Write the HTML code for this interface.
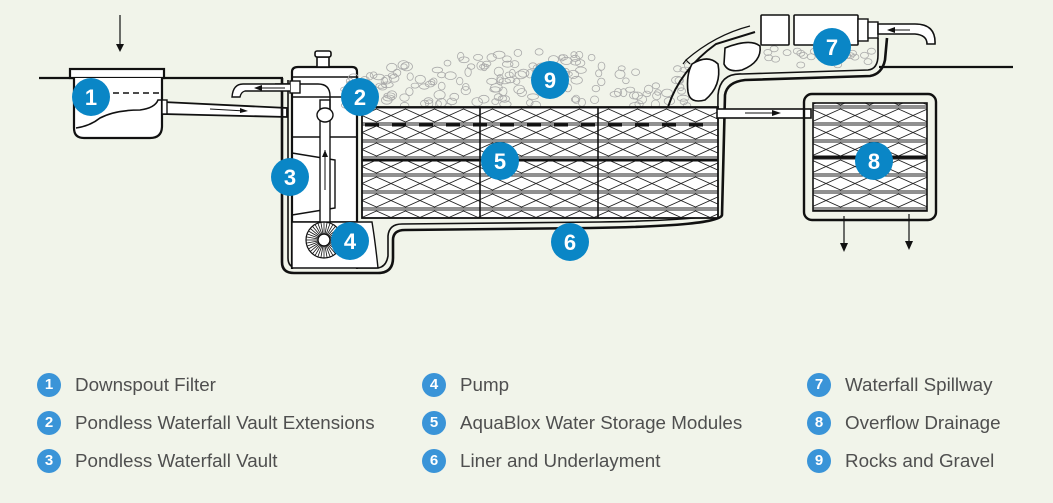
<!DOCTYPE html>
<html><head><meta charset="utf-8"><style>
html,body{margin:0;padding:0;background:#f1f4ea;}
body{width:1053px;height:503px;overflow:hidden;position:relative;font-family:"Liberation Sans",Arial,sans-serif;}
svg{position:absolute;left:0;top:0;}
.lg{position:absolute;font-size:18.8px;color:#4f4f4f;}
.lc{position:absolute;width:24px;height:24px;border-radius:50%;background:#3a94d8;color:#fff;font-weight:bold;font-size:15px;text-align:center;line-height:24px;}
</style></head><body>
<svg width="1053" height="503" viewBox="0 0 1053 503">
<defs>
<pattern id="mod" width="29" height="17" patternUnits="userSpaceOnUse" x="362" y="107">
<rect width="29" height="17" fill="#fff"/>
<path d="M0 8.5 L14.5 2 L29 8.5 L14.5 15 Z" fill="none" stroke="#222" stroke-width="0.9"/>
<line x1="0" y1="1" x2="29" y2="1" stroke="#222" stroke-width="0.9"/>
<line x1="0" y1="16" x2="29" y2="16" stroke="#222" stroke-width="0.9"/>
</pattern>
</defs>
<g stroke="#111" fill="none" stroke-width="2.2">
<line x1="39" y1="78" x2="283" y2="78"/>
<line x1="879" y1="67" x2="1013" y2="67"/>
<line x1="120" y1="15" x2="120" y2="50" stroke-width="1.2"/>
<path d="M116 44 L120 52 L124 44 Z" fill="#111" stroke="none"/>
<rect x="70" y="69" width="94" height="9" fill="#fff"/>
<path d="M74 78 V128 Q74 138 84 138 H150 Q162 138 162 126 V78" fill="#fff"/>
<path d="M76 128 Q90 126 100 118 Q115 110 140 110 Q155 108 158 100 L162 100" stroke-width="1.6"/>
<line x1="113" y1="93" x2="160" y2="93" stroke-dasharray="6,4" stroke-width="1.6"/>
<path d="M163 102 L287 108 L287 117 L163 114 Z" fill="#fff" stroke-width="1.8"/>
<rect x="162" y="100" width="5" height="14" fill="#fff" stroke-width="1.4"/>
<line x1="210" y1="109" x2="245" y2="111" stroke-width="1"/>
<path d="M240 108 L248 111 L240 113 Z" fill="#111" stroke="none"/>
<path d="M282 78 V262 Q282 273 294 273 H378 Q393 273 393 258 V240 Q393 230 405 230 L590 228 Q720 226 722 215 L725 95 Q727 82 745 80 L870 76 Q882 74 885 60 L887 38" stroke-width="2.6"/>
<path d="M288 80 V258 Q288 268 298 268 H376 Q386 268 388 256 V236 Q389 224 402 224 L600 222 Q717 220 717 212 L718 95 Q720 73 742 74 L868 70 Q878 69 878 55 L878 38" stroke-width="1.6"/>
<path d="M292 269 V72 Q292 67 298 67 H352 Q357 67 357 72 V269" fill="#fff"/>
<rect x="317" y="57" width="12" height="10" fill="#fff" stroke-width="1.6"/>
<rect x="315" y="51" width="16" height="6" rx="2" fill="#fff" stroke-width="1.6"/>
<line x1="292" y1="77" x2="357" y2="77" stroke-width="1.4"/>
<line x1="292" y1="97" x2="357" y2="97" stroke-width="1.4"/>
<line x1="292" y1="137" x2="357" y2="137" stroke-width="1.4"/>
<line x1="292" y1="222" x2="357" y2="222" stroke-width="1.4"/>
<path d="M292 153 L335 160 V208 L292 215" stroke-width="1.4"/>
<path d="M292 222 V268 H378 Q375 240 372 222 Z" fill="#fff" stroke-width="1.4"/>
<rect x="320" y="100" width="10" height="122" fill="#fff" stroke-width="1.4"/>
<path d="M275 84 H318 Q330 84 330 96 V110" stroke-width="1.4"/>
<ellipse cx="325" cy="115" rx="8" ry="7" fill="#fff" stroke-width="1.4"/>
<line x1="325" y1="150" x2="325" y2="190" stroke-width="1"/>
<path d="M322 157 L325 150 L328 157 Z" fill="#111" stroke="none"/>
<rect x="290" y="81" width="10" height="12" fill="#fff" stroke-width="1.4"/>
<path d="M290 84 H243 Q233 84 232 97 H240 Q241 92 245 91 H290" fill="#fff" stroke-width="1.4"/>
<line x1="255" y1="88" x2="285" y2="88" stroke-width="1"/>
<path d="M262 85 L254 88 L262 91 Z" fill="#111" stroke="none"/>
<circle cx="324" cy="240" r="18" fill="#fff" stroke-width="1.2"/>
<circle cx="324" cy="240" r="6" fill="#fff" stroke-width="1.4"/>
</g>
<g id="pumpfins" stroke="#111" stroke-width="0.8"></g>
<g id="gravel" fill="none" stroke="#aaa" stroke-width="0.8"></g>
<rect x="362" y="107" width="356" height="111" fill="url(#mod)" stroke="#111" stroke-width="1.8"/>
<g stroke="#111" stroke-width="1.6">
<line x1="480" y1="107" x2="480" y2="218"/>
<line x1="598" y1="107" x2="598" y2="218"/>
<line x1="362" y1="160" x2="718" y2="160" stroke-width="3"/>
<line x1="365" y1="125" x2="716" y2="125" stroke-width="3" stroke-dasharray="14,13"/>
</g>
<g stroke="#111" fill="none" stroke-width="2">
<rect x="717" y="109" width="94" height="9" fill="#fff" stroke-width="1.6"/>
<line x1="745" y1="113" x2="778" y2="113" stroke-width="1"/>
<path d="M772 110 L781 113 L772 116 Z" fill="#111" stroke="none"/>
<rect x="804" y="94" width="132" height="126" rx="8" stroke-width="2.4"/>
<rect x="813" y="103" width="114" height="108" fill="url(#mod)" stroke-width="1.6"/>
<line x1="813" y1="157" x2="927" y2="157" stroke-width="3"/>
<line x1="844" y1="216" x2="844" y2="248" stroke-width="1.2"/>
<path d="M840 243 L844 252 L848 243 Z" fill="#111" stroke="none"/>
<line x1="909" y1="214" x2="909" y2="246" stroke-width="1.2"/>
<path d="M905 241 L909 250 L913 241 Z" fill="#111" stroke="none"/>
<path d="M668 107 Q680 70 716 44 L755 32" stroke-width="2"/>
<path d="M686 60 Q715 35 750 26" stroke-width="1.2"/>
<path d="M683 64 L686 60 L690 64" stroke-width="1.2"/>
<path d="M692 64 Q708 54 718 64 Q722 86 705 100 Q690 104 688 92 Q686 75 692 64 Z" fill="#fff" stroke-width="1.6"/>
<path d="M725 48 Q750 38 760 46 Q762 62 742 70 Q728 73 724 64 Z" fill="#fff" stroke-width="1.6"/>
<rect x="761" y="15" width="28" height="30" rx="1" fill="#fff" stroke-width="1.6"/>
<rect x="794" y="15" width="64" height="30" rx="1" fill="#fff" stroke-width="1.6"/>
<rect x="858" y="19" width="10" height="22" fill="#fff" stroke-width="1.4"/>
<rect x="868" y="22" width="10" height="16" fill="#fff" stroke-width="1.4"/>
<path d="M878 24 H915 Q936 24 935 44 H927 Q927 35 915 34 H878 Z" fill="#fff" stroke-width="1.6"/>
<line x1="888" y1="30" x2="910" y2="30" stroke-width="1"/>
<path d="M895 27 L887 30 L895 33 Z" fill="#111" stroke="none"/>
</g>
<g font-family="Liberation Sans, Arial, sans-serif" font-weight="bold" font-size="22" fill="#fff" text-anchor="middle">
<g fill="#0a86c6"><circle cx="91" cy="97" r="19"/><circle cx="360" cy="97" r="19"/><circle cx="290" cy="177" r="19"/><circle cx="350" cy="241" r="19"/><circle cx="500" cy="161" r="19"/><circle cx="570" cy="242" r="19"/><circle cx="832" cy="47" r="19"/><circle cx="874" cy="161" r="19"/><circle cx="550" cy="80" r="19"/></g>
<text x="91" y="105">1</text><text x="360" y="105">2</text><text x="290" y="185">3</text><text x="350" y="249">4</text><text x="500" y="169">5</text><text x="570" y="250">6</text><text x="832" y="55">7</text><text x="874" y="169">8</text><text x="550" y="88">9</text>
</g>
</svg>
<div class="lc" style="left:37px;top:373px">1</div><div class="lg" style="left:75px;top:374px">Downspout Filter</div>
<div class="lc" style="left:37px;top:411px">2</div><div class="lg" style="left:75px;top:412px">Pondless Waterfall Vault Extensions</div>
<div class="lc" style="left:37px;top:449px">3</div><div class="lg" style="left:75px;top:450px">Pondless Waterfall Vault</div>
<div class="lc" style="left:422px;top:373px">4</div><div class="lg" style="left:460px;top:374px">Pump</div>
<div class="lc" style="left:422px;top:411px">5</div><div class="lg" style="left:460px;top:412px">AquaBlox Water Storage Modules</div>
<div class="lc" style="left:422px;top:449px">6</div><div class="lg" style="left:460px;top:450px">Liner and Underlayment</div>
<div class="lc" style="left:807px;top:373px">7</div><div class="lg" style="left:845px;top:374px">Waterfall Spillway</div>
<div class="lc" style="left:807px;top:411px">8</div><div class="lg" style="left:845px;top:412px">Overflow Drainage</div>
<div class="lc" style="left:807px;top:449px">9</div><div class="lg" style="left:845px;top:450px">Rocks and Gravel</div>
<script>
(function(){
var ns="http://www.w3.org/2000/svg",g=document.getElementById("gravel"),s=7;
function r(){s=(s*9301+49297)%233280;return s/233280;}
for(var i=0;i<170;i++){var x=345+r()*350;var top=80-30*Math.exp(-Math.pow((x-520)/140,2));if(x>640)top=80-(x-640)*0.3;var y=top+r()*(106-top);
var e=document.createElementNS(ns,"ellipse");e.setAttribute("cx",x.toFixed(1));e.setAttribute("cy",y.toFixed(1));e.setAttribute("rx",(3+r()*3).toFixed(1));e.setAttribute("ry",(2.5+r()*2).toFixed(1));g.appendChild(e);}
for(var j=0;j<30;j++){var x2=735+r()*140,y2=48+r()*18;var e2=document.createElementNS(ns,"ellipse");e2.setAttribute("cx",x2);e2.setAttribute("cy",y2);e2.setAttribute("rx",4);e2.setAttribute("ry",3);g.appendChild(e2);}
var p=document.getElementById("pumpfins");
for(var k=0;k<36;k++){var a=k*Math.PI/18;var l=document.createElementNS(ns,"line");l.setAttribute("x1",324+6*Math.cos(a));l.setAttribute("y1",240+6*Math.sin(a));l.setAttribute("x2",324+18*Math.cos(a));l.setAttribute("y2",240+18*Math.sin(a));p.appendChild(l);}
})();
</script>
</body></html>
